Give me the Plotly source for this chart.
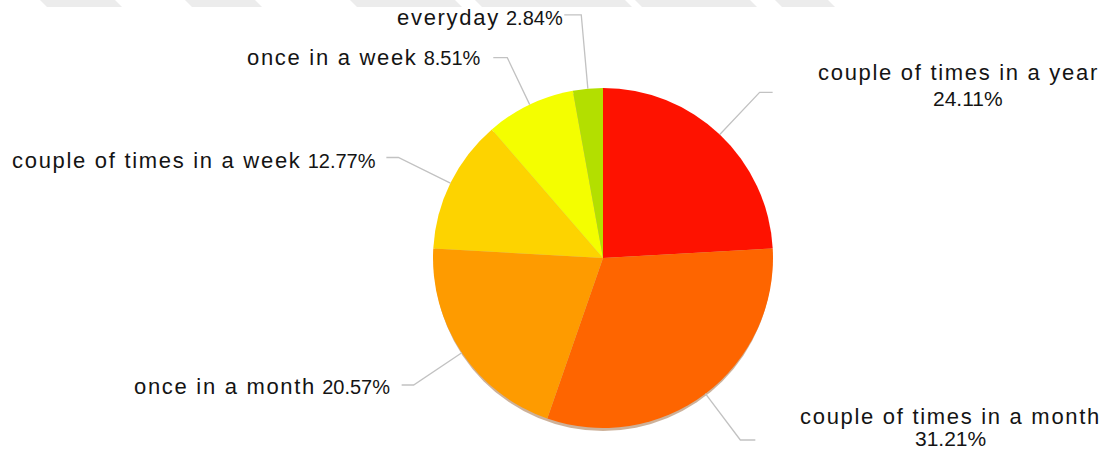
import math
import plotly.graph_objects as go

# Survey answers: how often respondents do it (share of answers, %)
categories = [
    "couple of times in a year",
    "couple of times in a month",
    "once in a month",
    "couple of times in a week",
    "once in a week",
    "everyday",
]
shares = [24.11, 31.21, 20.57, 12.77, 8.51, 2.84]
colors = ["#fe1200", "#fe6500", "#fe9b00", "#fdd300", "#f4fe00", "#b3df00"]

W, H = 1113, 452
CX, CY, R = 603, 258, 170          # pie centre and radius in pixels

# leader-line elbow radius and horizontal run (px, signed) for each slice
elbow_r = [228, 228, 228, 228, 222, 244]
run = [13, 15, -12, -12, -14, -17]
# label anchor points (px): name line, optional second line for the value
label_pos = [
    (958, 72, "center", 968, 98),
    (950, 416, "center", 950, 438),
    (392, 386, "right", None, None),
    (378, 160, "right", None, None),
    (483, 57, "right", None, None),
    (565, 18, "right", None, None),
]

FONT = "Liberation Sans, Arial, sans-serif"
TEXT_COLOR = "#141414"
LINE_COLOR = "#c2c2c2"
NAME_SIZE = 22
PCT_SIZE = 20
PCT_SIZE_BELOW = 21


def px(x):
    return x / W


def py(y):
    return 1 - y / H


fig = go.Figure(
    go.Pie(
        labels=categories,
        values=shares,
        sort=False,
        direction="clockwise",
        rotation=0,
        marker=dict(colors=colors, line=dict(width=0)),
        textinfo="none",
        hoverinfo="label+percent",
        domain=dict(x=[px(CX - R), px(CX + R)], y=[py(CY + R), py(CY - R)]),
    )
)

shapes = []

# faint banded strip along the top edge
band = [(40, 115), (185, 255), (350, 455), (475, 625), (635, 750), (775, 828)]
for a, b in band:
    shapes.append(dict(
        type="path", xref="paper", yref="paper", layer="below",
        path=f"M {px(a)} {py(0)} L {px(b)} {py(0)} L {px(b + 7)} {py(7)} L {px(a + 7)} {py(7)} Z",
        fillcolor="#ececec", line=dict(width=0),
    ))

# soft shadow under the pie
shapes.append(dict(
    type="circle", xref="paper", yref="paper", layer="below",
    x0=px(CX - R + 1), x1=px(CX + R - 1), y0=py(CY + R + 3), y1=py(CY - R + 3),
    fillcolor="rgba(130,60,0,0.40)", line=dict(width=0),
))

# leader lines from each slice's mid-angle, plus labels
cum = 0.0
total = sum(shares)
annotations = []
for i, (name, v) in enumerate(zip(categories, shares)):
    mid = (cum + v / 2) / total * 2 * math.pi
    cum += v
    sx, sy = math.sin(mid), -math.cos(mid)
    x0, y0 = CX + R * sx, CY + R * sy
    x1, y1 = CX + elbow_r[i] * sx, CY + elbow_r[i] * sy
    x2 = x1 + run[i]
    shapes.append(dict(
        type="path", xref="paper", yref="paper",
        path=f"M {px(x0)} {py(y0)} L {px(x1)} {py(y1)} L {px(x2)} {py(y1)}",
        line=dict(color=LINE_COLOR, width=1.3),
    ))

    lx, ly, anchor, vx, vy = label_pos[i]
    pct = f"{v:.2f}%"
    name_html = f'<span style="letter-spacing:1.7px">{name}</span>'
    if vx is None:
        text = f'{name_html} <span style="font-size:{PCT_SIZE}px">{pct}</span>'
    else:
        text = name_html
        annotations.append(dict(
            xref="paper", yref="paper", x=px(vx), y=py(vy),
            xanchor="center", yanchor="middle",
            text=pct, showarrow=False,
            font=dict(family=FONT, size=PCT_SIZE_BELOW, color=TEXT_COLOR),
        ))
    annotations.append(dict(
        xref="paper", yref="paper", x=px(lx), y=py(ly),
        xanchor=anchor, yanchor="middle",
        text=text, showarrow=False,
        font=dict(family=FONT, size=NAME_SIZE, color=TEXT_COLOR),
    ))

fig.update_layout(
    width=W, height=H,
    margin=dict(l=0, r=0, t=0, b=0),
    paper_bgcolor="white",
    plot_bgcolor="white",
    showlegend=False,
    shapes=shapes,
    annotations=annotations,
)

fig.write_html("out.html")
